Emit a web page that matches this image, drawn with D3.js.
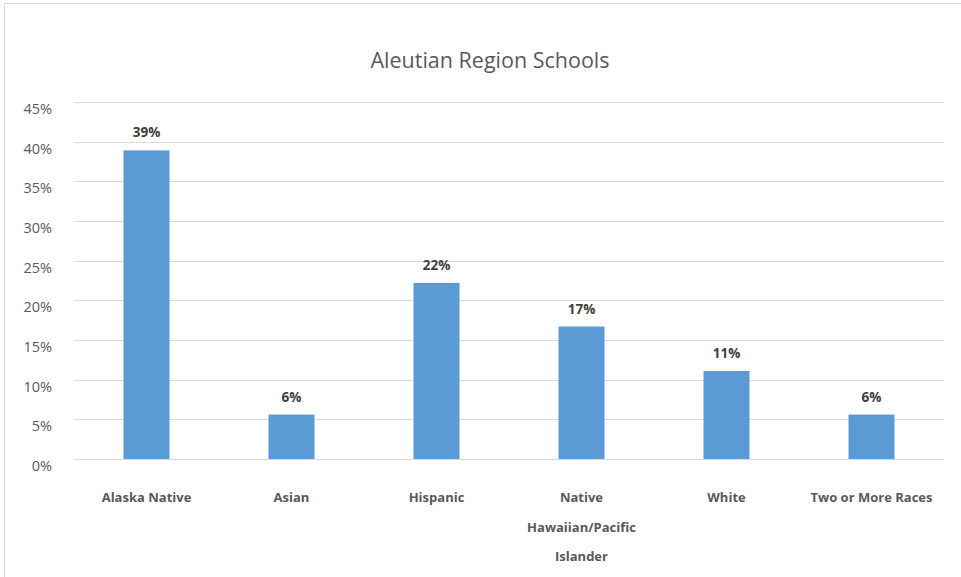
<!DOCTYPE html>
<html><head><meta charset="utf-8">
<script src="https://cdn.jsdelivr.net/npm/d3@7"></script>
<style>body{margin:0;background:#fff}svg{display:block}</style>
</head><body>
<script>
const categories = ["Alaska Native","Asian","Hispanic","Native Hawaiian/Pacific Islander","White","Two or More Races"];
const categoryLines = [["Alaska Native"],["Asian"],["Hispanic"],["Native","Hawaiian/Pacific","Islander"],["White"],["Two or More Races"]];
const values = [0.389,0.056,0.222,0.167,0.111,0.056];
const dataLabels = ["39%","6%","22%","17%","11%","6%"];
const yTicks = [0,0.05,0.10,0.15,0.20,0.25,0.30,0.35,0.40,0.45];
const title = "Aleutian Region Schools";

const W=961,H=577;
const m={left:74,right:17,top:102,bottom:118};
const svg=d3.select("body").append("svg").attr("width",W).attr("height",H);
const font="'Open Sans', sans-serif";
svg.append("rect").attr("x",4.5).attr("y",3.5).attr("width",W+10).attr("height",H+10)
  .attr("fill","#fff").attr("stroke","#d9d9d9");

const x=d3.scaleBand().domain(categories).range([m.left,W-m.right]).paddingInner(0.683).paddingOuter(0.3415);
const y=d3.scaleLinear().domain([0,0.45]).range([H-m.bottom,m.top]);

svg.append("text").attr("x",490).attr("y",68).attr("text-anchor","middle")
  .attr("font-family",font).attr("font-size",21.5).attr("fill","#595959").text(title);

const g=svg.append("g");
g.selectAll("line.grid").data(yTicks).join("line").attr("class","grid")
  .attr("x1",m.left).attr("x2",W-m.right).attr("y1",d=>Math.round(y(d))+0.5).attr("y2",d=>Math.round(y(d))+0.5)
  .attr("stroke","#d9d9d9").attr("stroke-width",1);

const yAxis=d3.axisLeft(y).tickValues(yTicks).tickFormat(d3.format(".0%")).tickSize(0).tickPadding(22);
const ya=svg.append("g").attr("transform",`translate(${m.left},7)`).call(yAxis);
ya.select(".domain").remove();
ya.selectAll("text").attr("font-family",font).attr("font-size",14.5).attr("fill","#595959");

g.selectAll("rect.bar").data(values).join("rect").attr("class","bar")
  .attr("x",(d,i)=>x(categories[i])).attr("width",x.bandwidth())
  .attr("y",d=>y(d)).attr("height",d=>y(0)-y(d)).attr("fill","#5B9BD5");

g.selectAll("text.dl").data(values).join("text").attr("class","dl")
  .attr("x",(d,i)=>x(categories[i])+x.bandwidth()/2).attr("y",d=>y(d)-13)
  .attr("text-anchor","middle").attr("font-family",font).attr("font-size",13.5).attr("font-weight","bold")
  .attr("fill","#404040").text((d,i)=>dataLabels[i]);

const xa=svg.append("g");
categoryLines.forEach((lines,i)=>{
  const cx=x(categories[i])+x.bandwidth()/2;
  const t=xa.append("text").attr("text-anchor","middle").attr("font-family",font).attr("font-size",13)
    .attr("font-weight","bold").attr("fill","#595959");
  lines.forEach((l,j)=>t.append("tspan").attr("x",cx).attr("y",502+j*29.5).text(l));
});
</script>
</body></html>
